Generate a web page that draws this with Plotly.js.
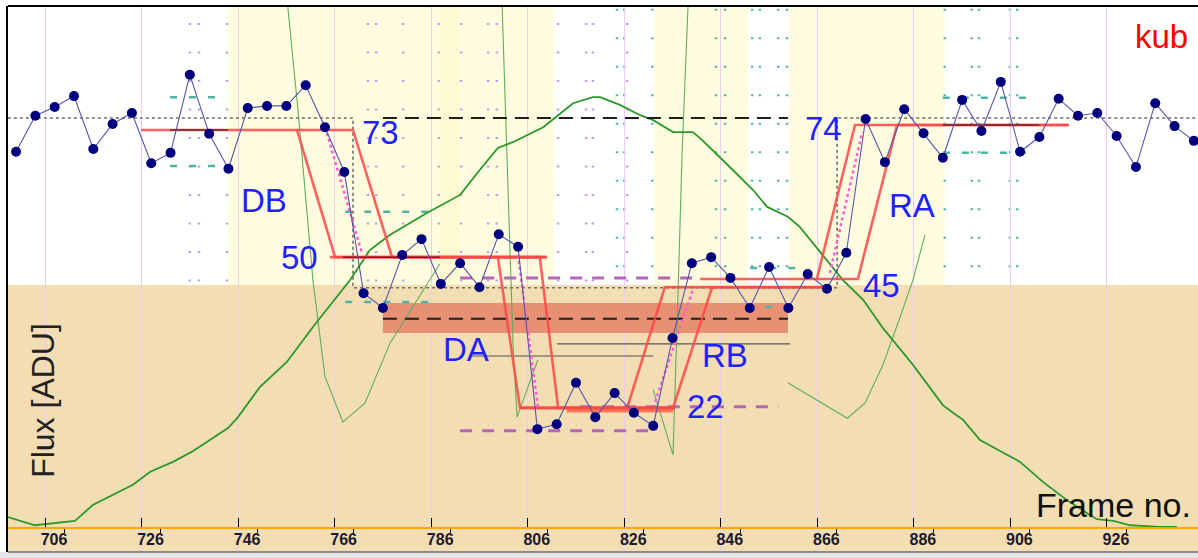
<!DOCTYPE html>
<html><head><meta charset="utf-8">
<script src="https://cdn.plot.ly/plotly-3.0.1.min.js"></script>
<style>html,body{margin:0;padding:0;background:#fff;}#chart{width:1198px;height:558px;}</style>
</head><body><div id="chart"></div>
<script>
// ---- data (frame number, flux) ----
const frames = [700,704,708,712,716,720,724,728,732,736,740,744,748,752,756,760,764,768,772,776,780,784,788,792,796,800,804,808,812,816,820,824,828,832,836,840,844,848,852,856,860,864,868,872,876,880,884,888,892,896,900,904,908,912,916,920,924,928,932,936,940,944];
const flux = [68.9,75.5,77.1,79.1,69.4,74.0,76.0,66.8,68.7,83.0,72.2,65.8,76.9,77.3,77.3,81.1,73.4,65.2,43.0,40.3,50.0,52.9,44.7,48.5,44.1,53.8,51.5,18.1,19.0,26.6,20.3,24.7,21.1,18.7,34.8,48.5,49.6,45.8,40.3,47.8,40.3,46.5,43.8,50.4,74.9,67.0,76.7,72.3,67.8,78.4,72.7,81.7,68.9,71.6,78.6,75.5,76.0,71.8,66.1,77.8,73.6,70.9];

const tickFrames = [706,726,746,766,786,806,826,846,866,886,906,926];
const tickLabels = ["706","726","746","766","786","806","826","846","866","886","906","926"];
const minorFrames = [710,730,750,770,790,810,830,850,870,890,910,930];

// comparison star curve (green)
const greenX = [698.3,703.9,712.2,715.9,724.2,727.8,732.5,736.7,743.9,745.8,750.5,756.1,761.5,765.7,769.2,773.3,777.5,785.1,792.0,796.1,799.8,803.0,809.2,812.3,815.4,819.5,821.0,825.1,829.3,832.0,836.1,840.2,841.7,845.8,850.0,852.7,855.6,859.9,862.4,865.9,870.1,871.3,875.5,879.6,885.8,892.0,894.1,896.2,899.7,905.3,908.0,912.8,917.7,921.9,923.9,927.3,930.8,937.0,940.5];
const greenY = [2.0,0.5,1.3,4.2,7.9,10.3,12.1,14.1,18.3,20.1,25.8,30.4,36.8,41.4,45.4,50.9,53.7,57.7,61.0,65.6,69.6,70.7,73.4,75.6,77.8,78.9,78.9,77.5,75.6,74.7,72.5,72.5,71.4,67.9,64.3,61.9,58.8,57.0,55.1,51.3,46.7,45.4,41.8,36.6,29.9,22.5,21.1,19.8,16.1,13.4,12.1,8.4,5.1,2.7,1.6,1.3,0.5,0.2,0.2];

// thin green fit-quality curves
const thinX = [756.3,758.4,761.5,764.0,767.7,772.3,777.5,787.8,null,800.7,801.7,803.0,803.8,808.1,null,832.0,836.1,837.1,838.0,839.2,null,859.9,872.2,875.9,879.6,883.1,885.8,888.3];
const thinY = [95.4,76.6,45.4,27.7,19.4,22.9,33.9,48.4,null,95.4,69.2,32.6,20.3,30.8,null,25.3,13.4,41.8,69.2,95.4,null,26.6,20.1,22.9,29.9,38.5,45.4,53.7];

// event models (red)
const dbEarlyX = [725.9,758.2,766.1,810.0], dbEarlyY = [72.9,72.9,49.6,49.6];
const dbLateX  = [758.2,769.8,777.9,810.0], dbLateY  = [72.9,72.9,49.6,49.6];
const daEarlyX = [765.0,799.8,804.4,836.5], daEarlyY = [49.6,49.6,22.0,22.0];
const daLateX  = [799.8,808.5,812.3,836.5], daLateY  = [49.6,49.6,22.0,22.0];
const rbEarlyX = [804.4,826.6,834.4,867.6], rbEarlyY = [22.0,22.0,44.1,44.1];
const rbLateX  = [826.6,836.1,844.2,867.6], rbLateY  = [22.0,22.0,44.1,44.1];
const raEarlyX = [841.7,865.9,873.8,918.1], raEarlyY = [45.6,45.6,73.8,73.8];
const raLateX  = [865.9,874.4,882.5,918.1], raLateY  = [45.6,45.6,73.8,73.8];
const bottomBarX = [814.1,836.1], bottomBarY = [21.6,21.6];

// pink dotted best-fit edges
const pinkX = [[764.4,771.7],[804.0,808.1],[832.4,840.2],[868.6,875.3]];
const pinkY = [[72.3,50.2],[50.0,22.2],[23.1,43.6],[46.7,72.5]];

// gray dotted square model
const squareX = [698.3,769.8,769.8,870.1,870.1,944.9];
const squareY = [75.1,75.1,44.0,44.0,75.1,75.1];

// dashed black levels and salmon band
const dashedLevels = [75.1,38.3], dashedStart = 776.0, dashedEnd = 859.9;
const bandLow = 35.7, bandHigh = 41.2;

// thin gray reference lines
const grayLevels = [33.7,31.5], grayStart = [812.1,794.0], grayEnd = [860.3,832.0];
// dark baseline overlays
const darkLevels = [72.9,49.6,73.8], darkStart = [731.9,767.7,892.0], darkEnd = [743.9,787.8,912.0];

// teal sigma dashes
const tealLevels = [78.9,66.3,57.9,41.4,78.8,68.7,47.6,40.5];
const tealStart = [731.9,731.9,768.2,768.2,892.0,892.0,852.1,855.2];
const tealEnd = [741.6,741.6,785.8,785.8,910.1,910.1,861.8,861.8];
// purple sigma dashes
const purpleLevels = [45.8,17.8,22.2];
const purpleStart = [792.0,792.0,816.8];
const purpleEnd = [841.7,832.4,857.9];

// background bands
const bandX0 = [743.9,832.2,860.1], bandX1 = [811.5,851.6,892.4];
const deepBandX = [787.8,791.8];
const tanTop = 44.5;
const purpleCols = [736.0,737.9,743.7,772.9,774.6,780.2,787.6,792.2,797.8,799.6,812.3,818.1,819.5,826.6];
const tealCols = [824.5,826.0,831.8,845.0,846.9,852.5,854.1,857.9,859.7,892.4,898.0,899.5,905.9,907.4];

// ---- build ----
const FONT = 'Liberation Sans, Arial, sans-serif';
function ln(x, y, color, width, dash) {
  return {type:'scatter', mode:'lines', x:x, y:y, line:{color:color, width:width, dash:dash||'solid'}, hoverinfo:'skip', showlegend:false, connectgaps:false};
}
const traces = [];
traces.push({type:'scatter', mode:'lines', x:[dashedStart,dashedEnd,dashedEnd,dashedStart,dashedStart], y:[bandLow,bandLow,bandHigh,bandHigh,bandLow], fill:'toself', fillcolor:'rgba(228,130,105,0.85)', line:{width:0}, hoverinfo:'skip', showlegend:false});
tealLevels.forEach((v,i)=>traces.push(ln([tealStart[i],tealEnd[i]],[v,v],'#4fb3a6',2.5,'7px,12px')));
purpleLevels.forEach((v,i)=>traces.push(ln([purpleStart[i],purpleEnd[i]],[v,v],'#b466b8',3,'12px,10px')));
grayLevels.forEach((v,i)=>traces.push(ln([grayStart[i],grayEnd[i]],[v,v],'#555555',1.2)));
traces.push(ln(thinX, thinY, '#5fae5f', 1.1));
traces.push(ln(greenX, greenY, '#2a982a', 1.8));
traces.push(ln(squareX, squareY, '#6e6e6e', 1.6, 'dot'));
dashedLevels.forEach(v=>traces.push(ln([dashedStart,dashedEnd],[v,v],'#1e1e1e',2,'14px,8px')));
const red = 'rgba(255,70,70,0.85)';
[[dbEarlyX,dbEarlyY],[dbLateX,dbLateY],[daEarlyX,daEarlyY],[daLateX,daLateY],[rbEarlyX,rbEarlyY],[rbLateX,rbLateY],[raEarlyX,raEarlyY],[raLateX,raLateY]].forEach(p=>traces.push(ln(p[0],p[1],red,2.6)));
traces.push(ln(bottomBarX, bottomBarY, 'rgba(255,80,60,0.75)', 5));
darkLevels.forEach((v,i)=>traces.push(ln([darkStart[i],darkEnd[i]],[v,v],'#6a2424',1.5)));
pinkX.forEach((x,i)=>traces.push(ln(x,pinkY[i],'#ff5fcf',2.5,'dot')));
traces.push({type:'scatter', mode:'lines+markers', x:frames, y:flux, line:{color:'#5656aa', width:1.1}, marker:{color:'#00007e', size:10, symbol:'circle'}, hoverinfo:'skip', showlegend:false});

const shapes = [];
shapes.push({type:'rect', xref:'paper', yref:'y', x0:0, x1:1, y0:-4.4, y1:tanTop, fillcolor:'#f3ddb3', line:{width:0}, layer:'below'});
bandX0.forEach((x,i)=>shapes.push({type:'rect', xref:'x', yref:'y', x0:x, x1:bandX1[i], y0:tanTop, y1:95.6, fillcolor:'#fffce0', line:{width:0}, layer:'below'}));
shapes.push({type:'rect', xref:'x', yref:'y', x0:deepBandX[0], x1:deepBandX[1], y0:tanTop, y1:95.6, fillcolor:'#fff9d2', line:{width:0}, layer:'below'});
purpleCols.forEach(x=>shapes.push({type:'line', xref:'x', yref:'y', x0:x, x1:x, y0:92.5, y1:tanTop, line:{color:'#c59de8', width:2.5, dash:'2px,26.5px'}, layer:'below'}));
tealCols.forEach(x=>shapes.push({type:'line', xref:'x', yref:'y', x0:x, x1:x, y0:95.1, y1:tanTop, line:{color:'#55b5ae', width:2.5, dash:'2px,26.5px'}, layer:'below'}));
shapes.push({type:'line', xref:'paper', yref:'paper', x0:0, x1:1, y0:1, y1:1, line:{color:'#000', width:2}});
shapes.push({type:'rect', xref:'paper', yref:'paper', x0:-0.01, x1:1, y0:-0.012, y1:0, fillcolor:'#e6e6e6', line:{width:0}});
shapes.push({type:'line', xref:'paper', yref:'paper', x0:0, x1:1, y0:0, y1:0, line:{color:'#8a8a8a', width:2}});

const blue = '#1f22ff';
function ann(text, x, y, color, size, extra) {
  return Object.assign({text:text, x:x, y:y, xref:'x', yref:'y', showarrow:false, xanchor:'center', yanchor:'middle', font:{family:FONT, size:size, color:color}}, extra||{});
}
const annotations = [
  ann('73', 775.6, 72.5, blue, 33),
  ann('DB', 751.4, 59.9, blue, 33),
  ann('50', 758.8, 49.5, blue, 33),
  ann('DA', 793.2, 32.6, blue, 33),
  ann('RB', 846.9, 31.5, blue, 33),
  ann('22', 842.9, 22.2, blue, 33),
  ann('45', 879.2, 44.5, blue, 33),
  ann('74', 867.2, 73.1, blue, 33),
  ann('RA', 885.6, 59.0, blue, 33),
  ann('kub', 937.2, 90.1, '#ff0000', 33),
  ann('Frame no.', 927.3, 4.2, '#111', 34),
  ann('Flux [ADU]', 705.6, 23.3, '#222', 32, {textangle:-90})
];

const layout = {
  width:1198, height:558,
  margin:{l:8, r:0, t:6, b:6, pad:0},
  paper_bgcolor:'#ffffff', plot_bgcolor:'#ffffff',
  showlegend:false,
  xaxis:{range:[698.33,944.86], anchor:'free', position:0.044, tickmode:'array', tickvals:tickFrames, ticktext:tickLabels,
    showgrid:true, gridcolor:'#ecccf2', gridwidth:1, zeroline:false, showline:true, linecolor:'#ffa500', linewidth:2,
    ticks:'inside', ticklen:9, tickcolor:'#000', tickwidth:1, ticklabelshift:9, ticklabelstandoff:-3,
    tickfont:{family:FONT, size:16, color:'#1a1a2a', weight:'bold'},
    minor:{tickmode:'array', tickvals:minorFrames, ticks:'outside', ticklen:4, tickcolor:'#000', showgrid:false}},
  yaxis:{range:[-4.4,95.6], showticklabels:false, showgrid:false, zeroline:false, showline:true, linecolor:'#000', linewidth:2, ticks:''},
  shapes:shapes, annotations:annotations
};
Plotly.newPlot('chart', traces, layout, {staticPlot:true, displayModeBar:false});
</script></body></html>
